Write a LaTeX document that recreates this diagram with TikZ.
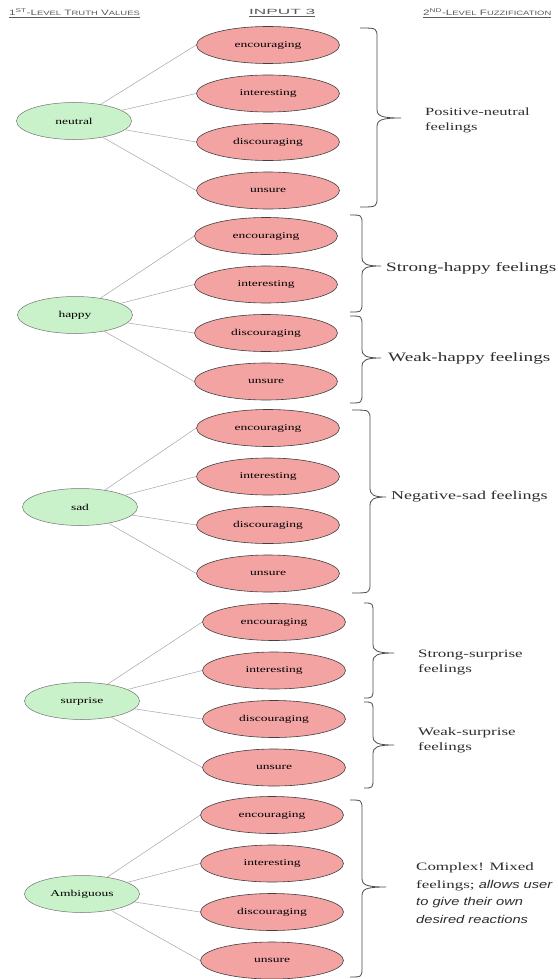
\documentclass[tikz,border=0pt]{standalone}
\usepackage{fontspec}
\usetikzlibrary{shapes.geometric}
\setmainfont{Liberation Serif}
\newfontfamily\serifx[FakeStretch=1.5]{Liberation Serif}
\newfontfamily\sansx[FakeStretch=1.5]{Liberation Sans}
\newfontfamily\sansit[FakeStretch=1.3]{Liberation Sans}
\newfontfamily\sanswide[FakeStretch=2.3]{Liberation Sans}
\definecolor{pinkfill}{RGB}{244,163,163}
\definecolor{greenfill}{RGB}{202,242,202}
\definecolor{hdrgray}{RGB}{90,90,90}
\definecolor{labgray}{RGB}{45,45,45}
\newcommand\bigsm[2]{{\fontsize{7.8}{9}\selectfont #1}{\fontsize{6.3}{8}\selectfont #2}}
\newcommand\fbrace[6]{%
  \draw[bracestyle] (#1,#4) .. controls (#2,#4) .. (#2,#4+10) -- (#2,#6-9)
    .. controls (#2,#6-2) and (#2+4,#6) .. (#3,#6)
    .. controls (#2+4,#6) and (#2,#6+2) .. (#2,#6+9) -- (#2,#5-10)
    .. controls (#2,#5) .. (#1,#5);}
\begin{document}
\begin{tikzpicture}[x=1pt,y=-1pt,
  greenell/.style={ellipse, draw=black!55, line width=0.5pt, fill=greenfill,
    minimum width=115pt, minimum height=37pt, inner sep=0pt,
    font=\serifx\fontsize{9}{10}\selectfont},
  pinkell/.style={ellipse, draw=black!75, line width=0.6pt, fill=pinkfill,
    minimum width=143pt, minimum height=37pt, inner sep=0pt,
    font=\serifx\fontsize{9}{10}\selectfont},
  conn/.style={draw=black!35, line width=0.5pt},
  bracestyle/.style={draw=black!70, line width=0.8pt},
  hdr/.style={anchor=west, inner sep=0pt, text=hdrgray,
    font=\sansx\fontsize{7.8}{9}\selectfont},
  lab/.style={anchor=west, align=left, inner sep=0pt, text=labgray},
  labA/.style={lab, font=\serifx\fontsize{11}{15}\selectfont},
  labB/.style={lab, font=\serifx\fontsize{12.8}{16}\selectfont},
  labC/.style={lab, font=\serifx\fontsize{12}{15}\selectfont},
  labD/.style={lab, font=\serifx\fontsize{11.3}{15}\selectfont},
  labE/.style={lab, font=\serifx\fontsize{11.3}{17.5}\selectfont}]
\fill[white] (0,0) rectangle (557,979);
\useasboundingbox (0,0) rectangle (557,979);

% headers
\node[hdr] (h1) at (9,13) {\underline{1\textsuperscript{ST}-\bigsm{L}{EVEL} \bigsm{T}{RUTH} \bigsm{V}{ALUES}}};
\node[hdr, font=\sanswide\fontsize{7.5}{9}\selectfont] (h2) at (249,13) {\underline{INPUT 3}};
\node[hdr] (h3) at (423,13) {\underline{2\textsuperscript{ND}-\bigsm{L}{EVEL} \bigsm{F}{UZZIFICATION}}};

% groups
\foreach \g/\lab/\gx/\gy/\px/\py in {1/{neutral\hspace{20pt}}/74/121/268/45,
    2/happy/75/315/266/236, 3/sad/80/507/268/428,
    4/surprise/82/701/274/622, 5/Ambiguous/82/894/272/815}{
  \node[greenell] (g\g) at (\gx,\gy) {\lab};
  \foreach \w [count=\i from 0] in {encouraging,interesting,discouraging,unsure}{
    \node[pinkell] (p\g\i) at (\px,\py+48.5*\i) {\w};
    \draw[conn] (g\g) -- (p\g\i.west);
  }
}

% braces
\fbrace{360}{377}{401}{28}{207}{118}
\fbrace{350}{362}{381}{215}{312}{266}
\fbrace{350}{362}{381}{316}{403}{358}
\fbrace{352}{370}{386}{410}{593}{497}
\fbrace{364}{373}{394}{603}{698}{653}
\fbrace{364}{373}{394}{702}{788}{745}
\fbrace{350}{362}{386}{800}{977}{887}

% labels
\node[labA] (l1) at (425,120) {Positive-neutral\\feelings};
\node[labB] (l2) at (386,268) {Strong-happy feelings};
\node[labB] (l3) at (388,358) {Weak-happy feelings};
\node[labC] (l4) at (391,497) {Negative-sad feelings};
\node[labD] (l5) at (418,662) {Strong-surprise\\feelings};
\node[labD] (l6) at (418,740) {Weak-surprise\\feelings};
\node[labE] (l7) at (416,893) {Complex! Mixed\\feelings; {\sansit\itshape allows user}\\{\sansit\itshape to give their own}\\{\sansit\itshape desired reactions}};
\end{tikzpicture}
\end{document}
